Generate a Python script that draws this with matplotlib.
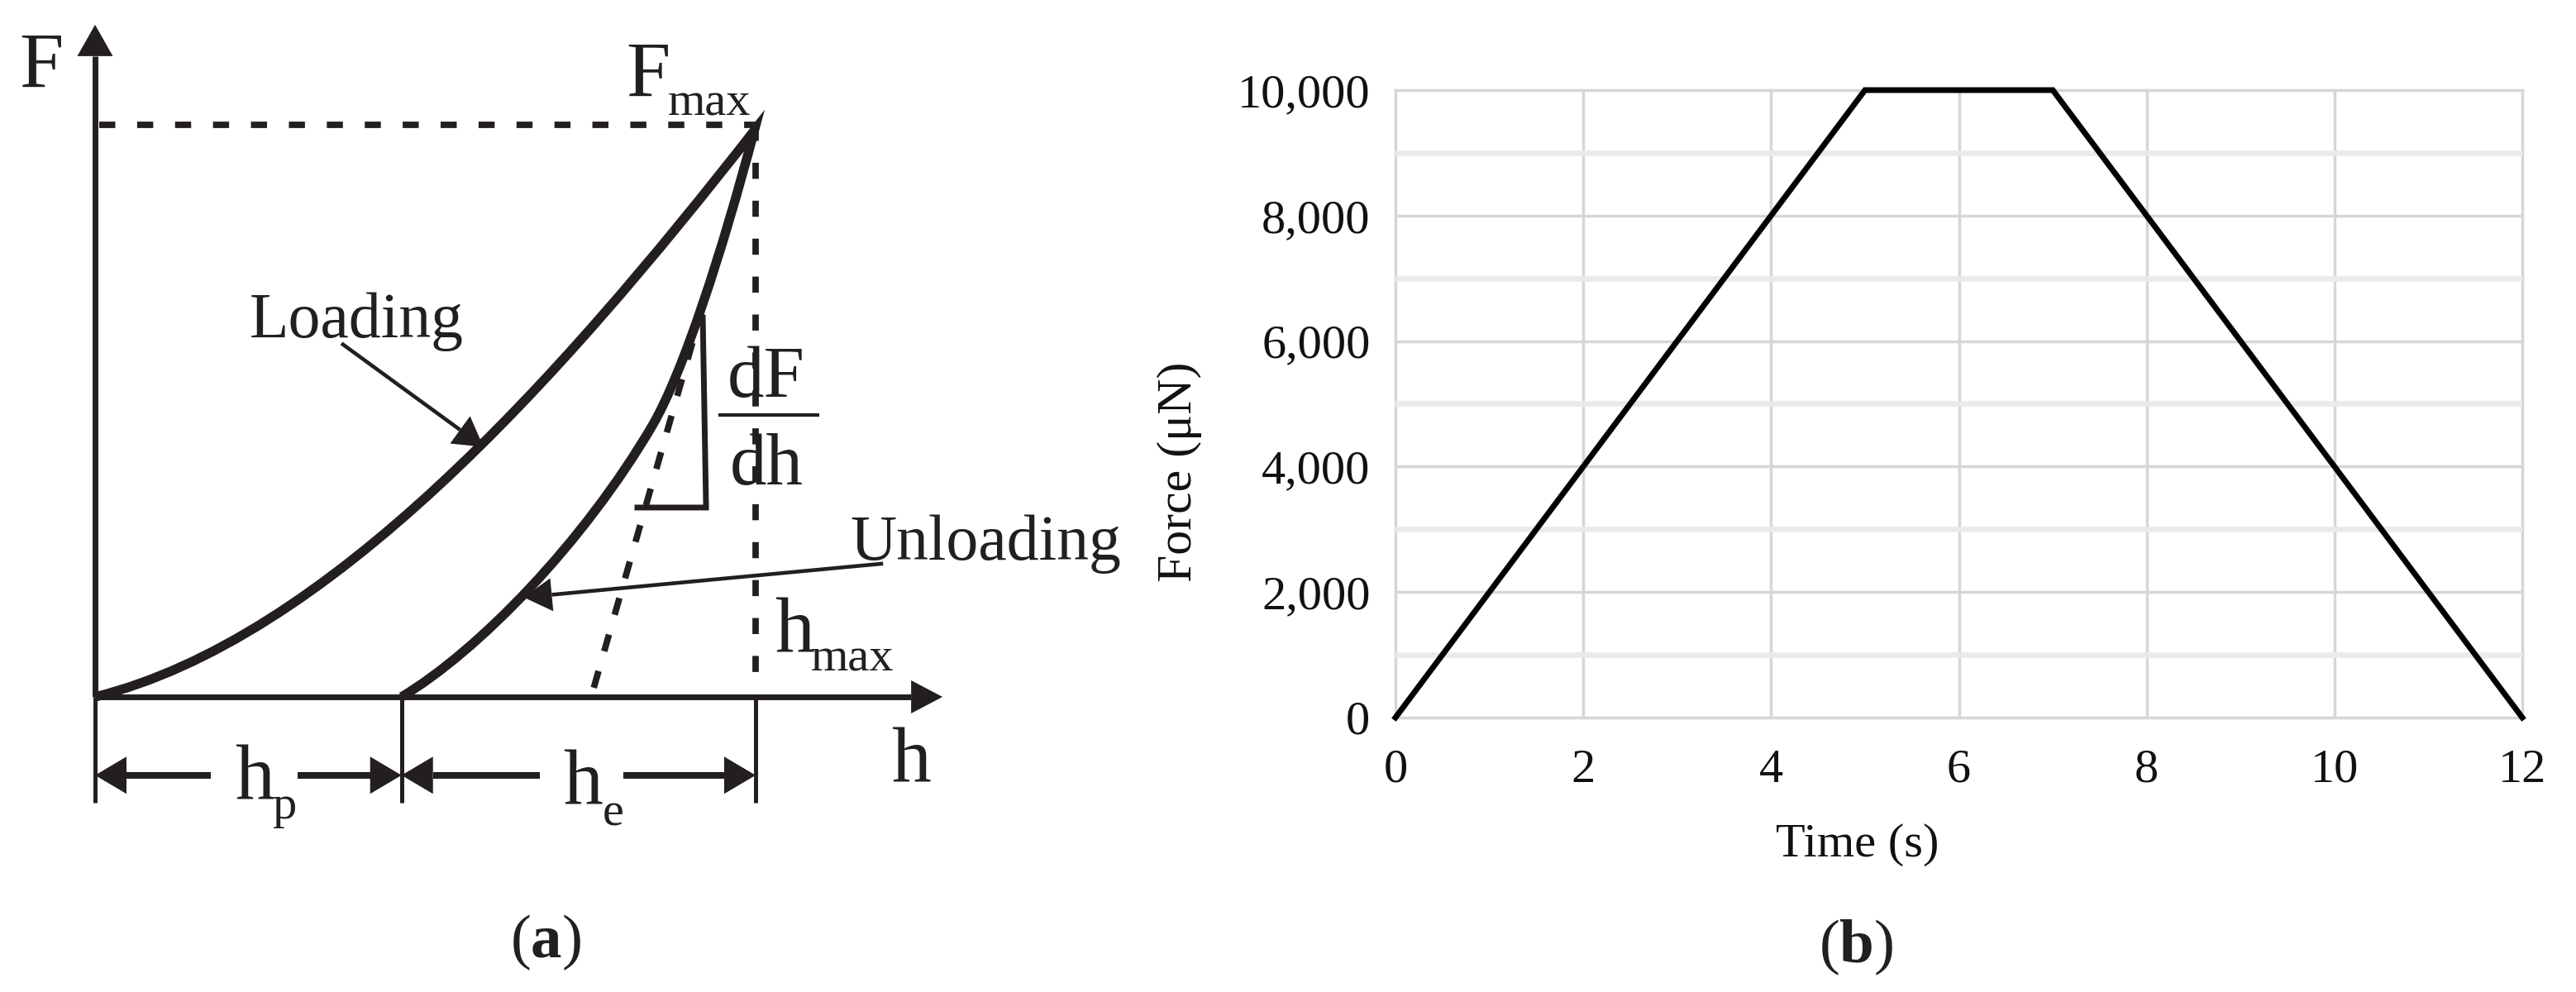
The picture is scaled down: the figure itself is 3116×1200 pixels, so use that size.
import matplotlib
matplotlib.use("Agg")
import matplotlib.pyplot as plt
import matplotlib.patches as patches
from matplotlib.path import Path
from matplotlib.ticker import MultipleLocator, FuncFormatter
import numpy as np

plt.rcParams['font.family'] = ['Liberation Serif', 'DejaVu Serif']
plt.rcParams['mathtext.fontset'] = 'custom'
plt.rcParams['mathtext.rm'] = 'Liberation Serif'
plt.rcParams['mathtext.bf'] = 'Liberation Serif:bold'

INK = '#231f20'

## (b) load schedule
time_s = [0, 5, 7, 12]
force_uN = [0, 10000, 10000, 0]
x_ticks = [0, 2, 4, 6, 8, 10, 12]
y_ticks = [0, 2000, 4000, 6000, 8000, 10000]

## (a) schematic, in units of h_max and F_max
h_p = 0.464
h_max = 1.0
F_max = 1.0
# cubic bezier control points, origin -> tip
loading_h = [0.0, 0.35, 0.70, 0.998]
loading_F = [0.0, 0.10, 0.55, 0.99]
# two cubic pieces, tip -> h_p
unloading_h = [0.998, 0.95, 0.89, 0.844, 0.74, 0.58, h_p]
unloading_F = [0.99, 0.78, 0.566, 0.475, 0.27, 0.08, 0.0]
tangent_h = [0.755, 0.915]
tangent_F = [0.016, 0.662]
slope_tri_h = [0.821, 0.925, 0.920]
slope_tri_F = [0.331, 0.331, 0.663]
h_axis_end = 1.283
F_axis_end = 1.175
dim_F = -0.137
hp_gap = [0.175, 0.3066]
he_gap = [0.673, 0.800]
tick_bottom = -0.185
loading_arrow = [(0.373, 0.618), (0.588, 0.437)]
unloading_arrow = [(1.193, 0.233), (0.649, 0.174)]

# pixel size of one data unit on panel (a)
PX_H = 1 / 799
PX_F = 1 / 692


def head(ax, tip, tail, length, width):
	"""filled arrow head, length / width in pixels, returns base middle"""
	dx = (tip[0] - tail[0]) / PX_H
	dy = (tip[1] - tail[1]) / PX_F
	n = np.hypot(dx, dy)
	ux, uy = dx / n, dy / n
	bx, by = -ux * length, -uy * length
	px, py = -uy * width / 2, ux * width / 2
	pts = [tip,
		   (tip[0] + (bx + px) * PX_H, tip[1] + (by + py) * PX_F),
		   (tip[0] + (bx - px) * PX_H, tip[1] + (by - py) * PX_F)]
	ax.add_patch(patches.Polygon(pts, closed=True, facecolor=INK, edgecolor='none', zorder=5))
	return (tip[0] + bx * PX_H, tip[1] + by * PX_F)


def arrow(ax, tail, tip, lw, length, width):
	base = head(ax, tip, tail, length, width)
	ax.plot([tail[0], base[0]], [tail[1], base[1]], color=INK, lw=lw, solid_capstyle='butt')


fig = plt.figure(figsize=(31.16, 12), dpi=100)
W = 3116

# ---------------- (a) ----------------
ax = fig.add_axes([0, 0, 1450 / W, 1])
ax.set_xlim(-115 / 799, (1450 - 115) / 799)
ax.set_ylim(-(1200 - 843) / 692, 843 / 692)
ax.axis('off')

# axes with arrows
arrow(ax, (0, 0), (0, F_axis_end), 5.0, 38, 43)
arrow(ax, (0, 0), (h_axis_end, 0), 5.0, 38, 40)
for hx in [0, h_p, h_max]:
	ax.plot([hx, hx], [0, tick_bottom], color=INK, lw=3.6, solid_capstyle='butt')

# F_max / h_max guides
ax.plot([0.006, h_max], [F_max, F_max], color=INK, lw=5.6, ls=(0, (2.5, 3.4)), dash_capstyle='butt')
ax.plot([h_max, h_max], [F_max, 0.03], color=INK, lw=5.6, ls=(0, (2.5, 3.4)), dash_capstyle='butt')

# loading + unloading curve
verts = list(zip(loading_h, loading_F)) + list(zip(unloading_h, unloading_F))[1:]
codes = [Path.MOVETO] + [Path.CURVE4] * (len(verts) - 1)
ax.add_patch(patches.PathPatch(Path(verts, codes), facecolor='none', edgecolor=INK,
							   lw=8.2, joinstyle='miter', capstyle='butt', zorder=4))

# tangent and slope triangle
ax.plot(tangent_h, tangent_F, color=INK, lw=5.6, ls=(0, (2.7, 3.2)), dash_capstyle='butt')
ax.plot(slope_tri_h, slope_tri_F, color=INK, lw=5.0, solid_joinstyle='miter')

# callouts
arrow(ax, loading_arrow[0], loading_arrow[1], 3.3, 35, 41)
arrow(ax, unloading_arrow[0], unloading_arrow[1], 3.3, 34, 40)

# dimension arrows below axis
arrow(ax, (hp_gap[0], dim_F), (0, dim_F), 5.8, 38, 45)
arrow(ax, (hp_gap[1], dim_F), (h_p, dim_F), 5.8, 38, 45)
arrow(ax, (he_gap[0], dim_F), (h_p, dim_F), 5.8, 38, 45)
arrow(ax, (he_gap[1], dim_F), (h_max, dim_F), 5.8, 38, 45)

big = 69
small = 42
ax.text(-0.115, 1.066, 'F', fontsize=big, ha='left', va='baseline', color=INK)
ax.text(0.8035, 1.049, 'F', fontsize=big, ha='left', va='baseline', color=INK)
ax.text(0.867, 1.016, 'max', fontsize=small, ha='left', va='baseline', color=INK)
ax.text(1.029, 0.078, 'h', fontsize=big, ha='left', va='baseline', color=INK)
ax.text(1.084, 0.046, 'max', fontsize=small, ha='left', va='baseline', color=INK)
ax.text(1.206, -0.150, 'h', fontsize=big, ha='left', va='baseline', color=INK)
ax.text(0.2115, -0.1806, 'h', fontsize=big, ha='left', va='baseline', color=INK)
ax.text(0.269, -0.2124, 'p', fontsize=small, ha='left', va='baseline', color=INK)
ax.text(0.7084, -0.188, 'h', fontsize=big, ha='left', va='baseline', color=INK)
ax.text(0.7685, -0.2254, 'e', fontsize=small, ha='left', va='baseline', color=INK)
ax.text(0.234, 0.629, 'Loading', fontsize=56, ha='left', va='baseline', color=INK)
ax.text(1.1427, 0.240, 'Unloading', fontsize=56, ha='left', va='baseline', color=INK)
ax.text(1.016, 0.525, 'dF', fontsize=64, ha='center', va='baseline', color=INK)
ax.plot([0.944, 1.096], [0.493, 0.493], color=INK, lw=3.0, solid_capstyle='butt')
ax.text(1.016, 0.371, 'dh', fontsize=64, ha='center', va='baseline', color=INK)

# ---------------- (b) ----------------
bx = fig.add_axes([1688 / W, (1200 - 868) / 1200, 1363 / W, 759 / 1200])
bx.plot(time_s, force_uN, color='black', lw=5.0, solid_joinstyle='miter', clip_on=False, zorder=3)
bx.set_xlim(0, 12)
bx.set_ylim(0, 10000)
bx.set_xticks(x_ticks)
bx.set_yticks(y_ticks)
bx.yaxis.set_minor_locator(MultipleLocator(1000))
bx.yaxis.set_major_formatter(FuncFormatter(lambda v, _: f'{v:,.0f}'))
bx.set_axisbelow(True)
bx.grid(which='major', axis='both', color='#d6d6d6', lw=2.5)
bx.grid(which='minor', axis='y', color='#eaeaea', lw=4.8)
for line in bx.get_xgridlines() + bx.get_ygridlines():
	line.set_clip_on(False)
for s in bx.spines.values():
	s.set_visible(False)
bx.tick_params(which='both', length=0, labelsize=42, colors='#111111')
bx.tick_params(axis='x', pad=27)
bx.tick_params(axis='y', pad=22)
bx.text(0.410, -0.203, 'Time (s)', transform=bx.transAxes, fontsize=42,
		ha='center', va='center', color='#111111')
bx.text(-0.1915, 0.391, 'Force (μN)', transform=bx.transAxes, fontsize=43,
		rotation=90, ha='center', va='center', color='#111111')

# captions
fig.text(0.2118, 0.05, r'($\mathbf{a}$)', fontsize=54, ha='center', va='center', color=INK)
fig.text(0.7205, 0.045, r'($\mathbf{b}$)', fontsize=54, ha='center', va='center', color=INK)

fig.savefig('out.png', dpi=100)
